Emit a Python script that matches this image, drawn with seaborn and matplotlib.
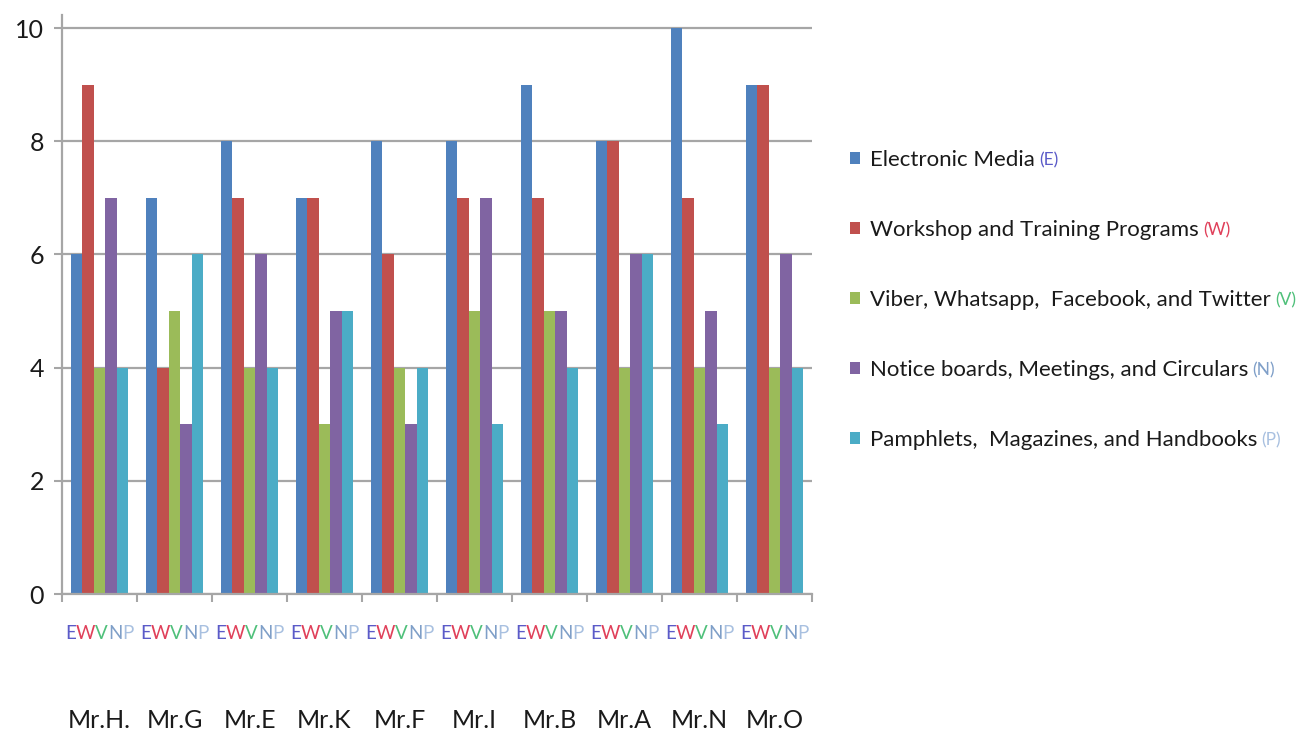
import matplotlib
matplotlib.use("Agg")
import matplotlib.pyplot as plt
import matplotlib.transforms as mtransforms
from matplotlib.offsetbox import TextArea, HPacker, AnnotationBbox
import seaborn as sns
import pandas as pd

# ---- data ----
people = ["Mr.H.", "Mr.G", "Mr.E", "Mr.K", "Mr.F", "Mr.I", "Mr.B", "Mr.A", "Mr.N", "Mr.O"]
media = ["Electronic Media", "Workshop and Training Programs",
         "Viber, Whatsapp,  Facebook, and Twitter",
         "Notice boards, Meetings, and Circulars",
         "Pamphlets,  Magazines, and Handbooks"]
codes = ["E", "W", "V", "N", "P"]
electronic = [6, 7, 8, 7, 8, 8, 9, 8, 10, 9]
workshop = [9, 4, 7, 7, 6, 7, 7, 8, 7, 9]
viber = [4, 5, 4, 3, 4, 5, 5, 4, 4, 4]
notice = [7, 3, 6, 5, 3, 7, 5, 6, 5, 6]
pamphlets = [4, 6, 4, 5, 4, 3, 4, 6, 3, 4]
y_ticks = [0, 2, 4, 6, 8, 10]

bar_colors = ["#4F81BD", "#C0504D", "#9BBB59", "#8064A2", "#4BACC6"]
code_colors = ["#5b5bc8", "#e0405a", "#4fc07a", "#7f9fc8", "#a8c0e0"]

series = [electronic, workshop, viber, notice, pamphlets]
rows = []
for m, vals in zip(media, series):
    for p, v in zip(people, vals):
        rows.append({"person": p, "medium": m, "value": v})
df = pd.DataFrame(rows)

sns.set_style("white")
plt.rcParams["font.family"] = ["Lato", "DejaVu Sans"]

W, H = 1311, 736
fig = plt.figure(figsize=(W / 100, H / 100), dpi=100)
ax = fig.add_axes([62 / W, 1 - 594 / H, (812 - 62) / W, (594 - 15) / H])

sns.barplot(data=df, x="person", y="value", hue="medium", order=people,
            hue_order=media, palette=bar_colors, saturation=1, width=0.76,
            linewidth=0, ax=ax, errorbar=None)

text_c = "#1a1a1a"
grid_c = "#a6a6a6"
ax.set_ylim(0, 10.23)
ax.set_xlim(-0.5, len(people) - 0.5)
ax.set_yticks(y_ticks)
ax.set_yticklabels([str(t) for t in y_ticks], fontsize=18, color=text_c)
ax.yaxis.grid(True, color=grid_c, linewidth=1.6)
ax.set_axisbelow(True)
ax.tick_params(axis="y", length=6, width=1.5, color=grid_c, pad=7, left=True)
for s in ["top", "right"]:
    ax.spines[s].set_visible(False)
for s in ["left", "bottom"]:
    ax.spines[s].set_color(grid_c)
    ax.spines[s].set_linewidth(1.6)

# category boundary ticks
ax.set_xticks([i - 0.5 for i in range(len(people) + 1)], minor=True)
ax.tick_params(axis="x", which="minor", length=6, width=1.5, color=grid_c,
               bottom=True, direction="out")
ax.set_xticks(range(len(people)))
ax.set_xticklabels(people, fontsize=18, color=text_c)
ax.tick_params(axis="x", which="major", length=0, pad=83)
ax.set_xlabel("")
ax.set_ylabel("")

# coloured E W V N P letters under each group
trans = mtransforms.blended_transform_factory(ax.transData, ax.transAxes)
for i in range(len(people)):
    parts = [TextArea(c, textprops=dict(color=col, fontsize=13.5))
             for c, col in zip(codes, code_colors)]
    pack = HPacker(children=parts, align="baseline", pad=0, sep=0)
    ab = AnnotationBbox(pack, (i, -0.069), xycoords=trans, frameon=False,
                        box_alignment=(0.5, 0.5), pad=0,
                        annotation_clip=False)
    ax.add_artist(ab)

# legend
handles, labels = ax.get_legend_handles_labels()
if ax.get_legend() is not None:
    ax.get_legend().remove()
leg = fig.legend(handles, labels, loc="upper left",
                 bbox_to_anchor=(850 / W, 1 - 150 / H), frameon=False,
                 fontsize=16, handlelength=0.45, handleheight=0.45,
                 handletextpad=0.45, labelspacing=2.25, borderpad=0,
                 borderaxespad=0, labelcolor=text_c)
fig.canvas.draw()
renderer = fig.canvas.get_renderer()
for t, c, col in zip(leg.get_texts(), codes, code_colors):
    bb = t.get_window_extent(renderer)
    fig.text(bb.x1 + 4, (bb.y0 + bb.y1) / 2, "(" + c + ")", color=col,
             fontsize=12.5, va="center", ha="left",
             transform=mtransforms.IdentityTransform())

fig.savefig("out.png", dpi=100)
